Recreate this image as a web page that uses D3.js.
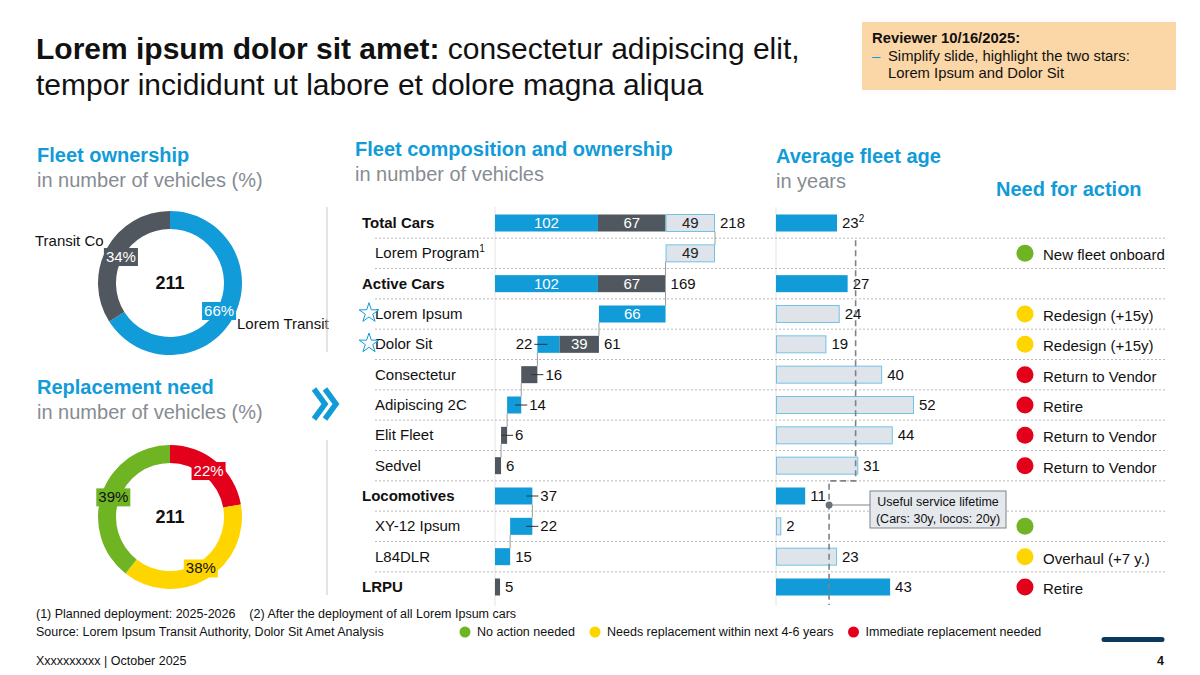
<!DOCTYPE html>
<html>
<head>
<meta charset="utf-8">
<script src="https://d3js.org/d3.v7.min.js"></script>
<style>
    body { margin: 0; background: #fff; }
    svg text { font-family: "Liberation Sans", Arial, sans-serif; }
</style>
</head>
<body>
<svg id="svg" width="1200" height="675"></svg>
<script>
    // ---- data ----
    const rows = ["Total Cars", "Lorem Program", "Active Cars", "Lorem Ipsum", "Dolor Sit", "Consectetur",
        "Adipiscing 2C", "Elit Fleet", "Sedvel", "Locomotives", "XY-12 Ipsum", "L84DLR", "LRPU"];
    const rowIsTotal = [true, false, true, false, false, false, false, false, false, true, false, false, true];
    const rowNote = ["", "1", "", "", "", "", "", "", "", "", "", "", ""];
    const starRows = ["Lorem Ipsum", "Dolor Sit"];
    const ownLorem = [102, 0, 102, 66, 22, 0, 14, 0, 0, 37, 22, 15, 0];
    const ownTransitCo = [67, 0, 67, 0, 39, 16, 0, 6, 6, 0, 0, 0, 5];
    const plannedCars = [49, 49, 0, 0, 0, 0, 0, 0, 0, 0, 0, 0, 0];
    const avgAge = [23, null, 27, 24, 19, 40, 52, 44, 31, 11, 2, 23, 43];
    const ageNote = ["2", "", "", "", "", "", "", "", "", "", "", "", ""];
    const actionStatus = [null, "ok", null, "soon", "soon", "now", "now", "now", "now", null, "ok", "soon", "now"];
    const actionText = ["", "New fleet onboard", "", "Redesign (+15y)", "Redesign (+15y)", "Return to Vendor",
        "Retire", "Return to Vendor", "Return to Vendor", "", "", "Overhaul (+7 y.)", "Retire"];
    const lifetimeCars = 30, lifetimeLocos = 20;

    const fleetTotal = 211;
    const ownershipNames = ["Lorem Transit", "Transit Co"];
    const ownershipShare = [66, 34];
    const replacementKeys = ["now", "soon", "ok"];
    const replacementShare = [22, 38, 39];
    const legendKeys = ["ok", "soon", "now"];
    const legendText = ["No action needed", "Needs replacement within next 4-6 years", "Immediate replacement needed"];

    // ---- styles ----
    const BLUE = "#119bd8", DARK = "#51575f", LIGHT = "#dfe4ea", LIGHTSTROKE = "#72c2e6", GREYTXT = "#878c93";
    const statusColor = { ok: "#6fb423", soon: "#ffd500", now: "#e3001b" };
    const statusText = { ok: "#111", soon: "#111", now: "#fff" };

    const svg = d3.select("#svg");

    // title
    const title = svg.append("text").attr("x", 36).attr("y", 59).attr("font-size", 30).attr("fill", "#111");
    title.append("tspan").attr("font-weight", "bold").text("Lorem ipsum dolor sit amet:");
    title.append("tspan").text(" consectetur adipiscing elit,");
    svg.append("text").attr("x", 36).attr("y", 95).attr("font-size", 30).attr("fill", "#111")
        .text("tempor incididunt ut labore et dolore magna aliqua");

    // reviewer note
    svg.append("rect").attr("x", 862).attr("y", 22).attr("width", 314).attr("height", 68).attr("fill", "#fbd6a6");
    svg.append("text").attr("x", 872).attr("y", 43).attr("font-size", 14.8).attr("font-weight", "bold").attr("fill", "#111")
        .text("Reviewer 10/16/2025:");
    svg.append("text").attr("x", 872).attr("y", 61).attr("font-size", 14.8).attr("fill", BLUE).text("\u2013");
    svg.append("text").attr("x", 888).attr("y", 61).attr("font-size", 14.8).attr("fill", "#111")
        .text("Simplify slide, highlight the two stars:");
    svg.append("text").attr("x", 888).attr("y", 78).attr("font-size", 14.8).attr("fill", "#111")
        .text("Lorem Ipsum and Dolor Sit");

    function heading(x, y, main, sub) {
        svg.append("text").attr("x", x).attr("y", y).attr("font-size", 20).attr("font-weight", "bold").attr("fill", BLUE).text(main);
        if (sub) svg.append("text").attr("x", x).attr("y", y + 25).attr("font-size", 20).attr("fill", GREYTXT).text(sub);
    }
    heading(37, 162, "Fleet ownership", "in number of vehicles (%)");
    heading(37, 394, "Replacement need", "in number of vehicles (%)");
    heading(355, 156, "Fleet composition and ownership", "in number of vehicles");
    heading(776, 163, "Average fleet age", "in years");
    heading(996, 196, "Need for action");

    // ---- donuts ----
    function donut(cx, cy, values, colors, txtColors, labR, labDy) {
        const pie = d3.pie().sort(null).value(d => d)(values);
        const arc = d3.arc().innerRadius(54).outerRadius(72);
        const lab = d3.arc().innerRadius(labR).outerRadius(labR);
        const g = svg.append("g").attr("transform", "translate(" + cx + "," + cy + ")");
        g.selectAll("path").data(pie).join("path").attr("d", arc).attr("fill", (d, i) => colors[i]);
        pie.forEach((d, i) => {
            const c = lab.centroid(d);
            c[1] += labDy;
            const t = g.append("text").attr("x", c[0]).attr("y", c[1] + 5).attr("text-anchor", "middle")
                .attr("font-size", 15).attr("fill", txtColors[i]).text(values[i] + "%");
            const bb = t.node().getBBox();
            g.insert("rect", "text").attr("x", bb.x - 2).attr("y", c[1] - 9).attr("width", bb.width + 4)
                .attr("height", 18).attr("fill", colors[i]);
        });
        g.append("text").attr("y", 6).attr("text-anchor", "middle").attr("font-size", 18).attr("font-weight", "bold")
            .attr("fill", "#111").text(fleetTotal);
    }
    donut(170, 283, ownershipShare, [BLUE, DARK], ["#fff", "#fff"], 56, 1);
    svg.append("text").attr("x", 35).attr("y", 246).attr("font-size", 15).attr("fill", "#111").text(ownershipNames[1]);
    svg.append("text").attr("x", 237).attr("y", 329).attr("font-size", 15).attr("fill", "#111").text(ownershipNames[0]);
    donut(170, 517, replacementShare, replacementKeys.map(k => statusColor[k]), replacementKeys.map(k => statusText[k]), 60, 0);

    // separators + chevron on the left
    svg.append("line").attr("x1", 327).attr("x2", 327).attr("y1", 207).attr("y2", 352).attr("stroke", "#c8c8c8");
    svg.append("line").attr("x1", 327).attr("x2", 327).attr("y1", 440).attr("y2", 595).attr("stroke", "#c8c8c8");
    const chev = d3.line();
    [0, 11].forEach(dx => {
        svg.append("path").attr("d", chev([[314 + dx, 389], [325 + dx, 404], [314 + dx, 419]]))
            .attr("fill", "none").attr("stroke", BLUE).attr("stroke-width", 5.5);
    });

    // ---- middle waterfall ----
    const y = d3.scalePoint().domain(d3.range(rows.length)).range([223, 587]);
    const step = y.step();
    const barH = 17;
    const xComp = d3.scaleLinear().domain([0, 218]).range([495, 715]);
    const xAge = d3.scaleLinear().domain([0, 52]).range([776, 914]);

    let level = 0;
    const comp = rows.map((name, i) => {
        const total = ownLorem[i] + ownTransitCo[i] + plannedCars[i];
        let start;
        if (rowIsTotal[i]) { start = 0; level = total; } else { start = level - total; level = start; }
        const segs = [];
        let s = start;
        [[ownLorem[i], "blue"], [ownTransitCo[i], "dark"], [plannedCars[i], "light"]].forEach(([v, k]) => {
            if (v > 0) { segs.push({ v: v, s: s, k: k }); s += v; }
        });
        return { name: name, i: i, start: start, total: total, level: level, segs: segs };
    });

    // baselines
    [495, 776].forEach(x => svg.append("line").attr("x1", x).attr("x2", x).attr("y1", 207).attr("y2", 606)
        .attr("stroke", "#e4e4e4"));

    // row separators
    d3.range(rows.length - 1).forEach(i => {
        const yy = y(i) + step / 2;
        svg.append("line").attr("x1", 375).attr("x2", 1165).attr("y1", yy).attr("y2", yy)
            .attr("stroke", "#b9b9b9").attr("stroke-dasharray", "2,2");
    });

    // row labels
    comp.forEach(d => {
        const t = svg.append("text").attr("x", rowIsTotal[d.i] ? 362 : 375).attr("y", y(d.i) + 5)
            .attr("font-size", 15).attr("font-weight", rowIsTotal[d.i] ? "bold" : "normal").attr("fill", "#111").text(d.name);
        if (rowNote[d.i]) t.append("tspan").attr("dy", -6).attr("font-size", 10).text(rowNote[d.i]);
        if (starRows.includes(d.name)) {
            svg.append("path").attr("transform", "translate(369," + (y(d.i) - 1) + ")")
                .attr("d", d3.symbol(d3.symbolStar, 120)()).attr("fill", "#fff").attr("stroke", BLUE).attr("stroke-width", 1);
        }
    });

    // connectors
    d3.range(rows.length - 1).forEach(i => {
        if (comp[i].level > 0) {
            svg.append("line").attr("x1", xComp(comp[i].level)).attr("x2", xComp(comp[i].level))
                .attr("y1", y(i) + barH / 2).attr("y2", y(i + 1) - barH / 2).attr("stroke", "#9a9a9a");
        }
    });

    const fillOf = { blue: BLUE, dark: DARK, light: LIGHT };
    const leaderRows = ["Consectetur", "Adipiscing 2C", "Elit Fleet", "Locomotives", "XY-12 Ipsum", "Dolor Sit"];
    comp.forEach(d => {
        const yc = y(d.i);
        d.segs.forEach(sg => {
            const x0 = xComp(sg.s), w = xComp(sg.s + sg.v) - x0;
            svg.append("rect").attr("x", x0 + (sg.k === "light" ? 0.5 : 0)).attr("y", yc - barH / 2)
                .attr("width", w - (sg.k === "light" ? 1 : 0)).attr("height", barH)
                .attr("fill", fillOf[sg.k]).attr("stroke", sg.k === "light" ? LIGHTSTROKE : "none");
        });
        const end = xComp(d.start + d.total);
        d.segs.forEach(sg => {
            const x0 = xComp(sg.s), w = xComp(sg.s + sg.v) - x0;
            if (w >= 38) {
                svg.append("text").attr("x", x0 + w / 2).attr("y", yc + 5).attr("text-anchor", "middle")
                    .attr("font-size", 15).attr("fill", sg.k === "light" ? "#222" : "#fff").text(sg.v);
            } else if (d.segs.length > 1) {
                // narrow segment of a stacked bar: label on the left
                svg.append("line").attr("x1", x0 - 3).attr("x2", x0 + 10).attr("y1", yc).attr("y2", yc).attr("stroke", "#333");
                svg.append("text").attr("x", x0 - 5).attr("y", yc + 5).attr("text-anchor", "end")
                    .attr("font-size", 15).attr("fill", "#111").text(sg.v);
            }
        });
        const outside = d.segs.length > 1 || (xComp(d.start + d.total) - xComp(d.start)) < 38;
        if (outside) {
            let tx = end + 5;
            if (d.segs.length === 1 && leaderRows.includes(d.name)) {
                svg.append("line").attr("x1", end - 6).attr("x2", end + 6).attr("y1", yc).attr("y2", yc).attr("stroke", "#333");
                tx = end + 8;
            }
            svg.append("text").attr("x", tx).attr("y", yc + 5).attr("font-size", 15).attr("fill", "#111").text(d.total);
        }
    });

    // ---- average age ----
    rows.forEach((name, i) => {
        if (avgAge[i] == null) return;
        const solid = rowIsTotal[i];
        const yc = y(i);
        svg.append("rect").attr("x", xAge(0) + (solid ? 0 : 0.5)).attr("y", yc - barH / 2)
            .attr("width", xAge(avgAge[i]) - xAge(0) - (solid ? 0 : 1)).attr("height", barH)
            .attr("fill", solid ? BLUE : LIGHT).attr("stroke", solid ? "none" : LIGHTSTROKE);
        const t = svg.append("text").attr("x", xAge(avgAge[i]) + 5).attr("y", yc + 5).attr("font-size", 15)
            .attr("fill", "#111").text(avgAge[i]);
        if (ageNote[i]) t.append("tspan").attr("dy", -6).attr("font-size", 10).text(ageNote[i]);
    });

    // useful service lifetime reference
    const iSedvel = rows.indexOf("Sedvel");
    const yBreak = y(iSedvel) + step / 2;
    const lifePath = d3.line()([
        [xAge(lifetimeCars), y(1) - step / 2 + 2],
        [xAge(lifetimeCars), yBreak],
        [xAge(lifetimeLocos), yBreak],
        [xAge(lifetimeLocos), y(rows.length - 1) + 18]
    ]);
    svg.append("path").attr("d", lifePath).attr("fill", "none").attr("stroke", "#7d838a")
        .attr("stroke-width", 1.6).attr("stroke-dasharray", "6,4");
    const calloutY = y(rows.indexOf("Locomotives")) + 9;
    svg.append("line").attr("x1", xAge(lifetimeLocos)).attr("x2", 870).attr("y1", calloutY).attr("y2", calloutY)
        .attr("stroke", "#7d838a");
    svg.append("circle").attr("cx", xAge(lifetimeLocos)).attr("cy", calloutY).attr("r", 3.5).attr("fill", "#6b7077");
    svg.append("rect").attr("x", 870).attr("y", 491).attr("width", 136).attr("height", 37)
        .attr("fill", "#e5e8ec").attr("stroke", "#7d838a");
    svg.append("text").attr("x", 938).attr("y", 506).attr("text-anchor", "middle").attr("font-size", 12.5)
        .attr("fill", "#111").text("Useful service lifetime");
    svg.append("text").attr("x", 938).attr("y", 523).attr("text-anchor", "middle").attr("font-size", 12.5)
        .attr("fill", "#111").text("(Cars: " + lifetimeCars + "y, locos: " + lifetimeLocos + "y)");

    // ---- need for action ----
    rows.forEach((name, i) => {
        if (!actionStatus[i]) return;
        svg.append("circle").attr("cx", 1025).attr("cy", y(i)).attr("r", 8.5).attr("fill", statusColor[actionStatus[i]]);
        svg.append("text").attr("x", 1043).attr("y", y(i) + 7).attr("font-size", 15).attr("fill", "#111").text(actionText[i]);
    });

    // ---- footer ----
    svg.append("text").attr("x", 36).attr("y", 618).attr("font-size", 12.5).attr("fill", "#111")
        .text("(1) Planned deployment: 2025-2026    (2) After the deployment of all Lorem Ipsum cars")
        .attr("xml:space", "preserve").style("white-space", "pre");
    svg.append("text").attr("x", 36).attr("y", 636).attr("font-size", 12.5).attr("fill", "#111")
        .text("Source: Lorem Ipsum Transit Authority, Dolor Sit Amet Analysis");
    let lx = 465;
    legendKeys.forEach((k, i) => {
        svg.append("circle").attr("cx", lx).attr("cy", 632).attr("r", 5.5).attr("fill", statusColor[k]);
        const t = svg.append("text").attr("x", lx + 12).attr("y", 636).attr("font-size", 12.5).attr("fill", "#111").text(legendText[i]);
        lx += 12 + t.node().getComputedTextLength() + 20;
    });
    svg.append("line").attr("x1", 1104).attr("x2", 1162).attr("y1", 639.5).attr("y2", 639.5)
        .attr("stroke", "#0c3a5f").attr("stroke-width", 5).attr("stroke-linecap", "round");
    svg.append("text").attr("x", 36).attr("y", 665).attr("font-size", 12.5).attr("fill", "#111").text("Xxxxxxxxxx | October 2025");
    svg.append("text").attr("x", 1164).attr("y", 665).attr("text-anchor", "end").attr("font-size", 12.5)
        .attr("font-weight", "bold").attr("fill", "#111").text("4");
</script>
</body>
</html>
